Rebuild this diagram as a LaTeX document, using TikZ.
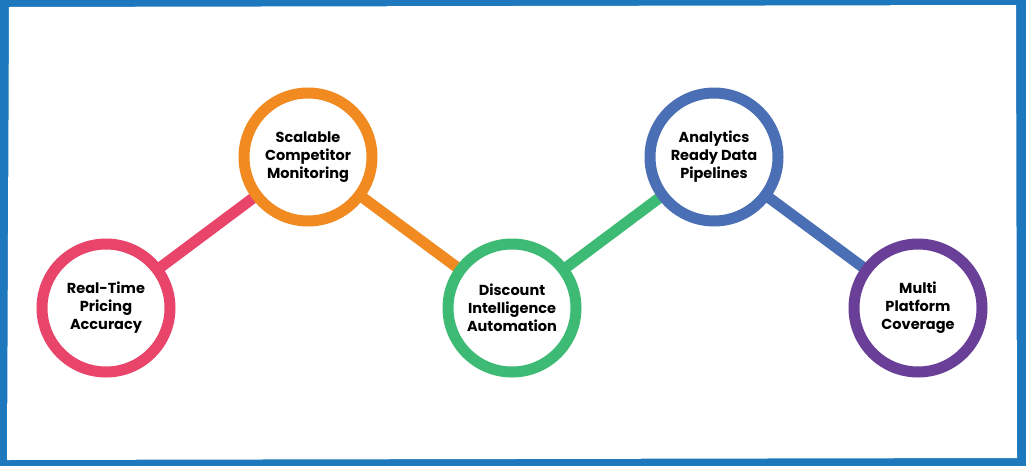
\documentclass[tikz,border=0pt]{standalone}
\usepackage{fontspec}
\setmainfont{Poppins}
\definecolor{cpink}{HTML}{E9446A}
\definecolor{corange}{HTML}{F28A22}
\definecolor{cgreen}{HTML}{3DBB74}
\definecolor{cblue}{HTML}{4A6FB5}
\definecolor{cpurple}{HTML}{6A3F98}
\definecolor{frame}{HTML}{1E78BE}
\begin{document}
\begin{tikzpicture}[x=1pt,y=-1pt,
  ring/.style={circle,draw=#1,line width=11pt,fill=white,minimum size=128pt,inner sep=0pt,align=center,font=\bfseries\fontsize{14.5}{18}\selectfont},
  link/.style={line width=11pt,draw=#1}]
\useasboundingbox (0,0) rectangle (1026,466);
\fill[frame] (0,0) rectangle (1026,466);
\fill[white] (9,7) -- (1016,5) -- (1017,458) -- (7,460) -- cycle;
\coordinate (p1) at (106,308);
\coordinate (p2) at (308,157);
\coordinate (p3) at (512,308);
\coordinate (p4) at (714,157);
\coordinate (p5) at (918,308);
\draw[link=cpink] (p1) -- (p2);
\draw[link=corange] (p2) -- (p3);
\draw[link=cgreen] (p3) -- (p4);
\draw[link=cblue] (p4) -- (p5);
\node[ring=cpink] (a) at (p1) {Real-Time\\Pricing\\Accuracy};
\node[ring=corange] (b) at (p2) {Scalable\\Competitor\\Monitoring};
\node[ring=cgreen] (c) at (p3) {Discount\\Intelligence\\Automation};
\node[ring=cblue] (d) at (p4) {Analytics\\Ready Data\\Pipelines};
\node[ring=cpurple] (e) at (p5) {Multi\\Platform\\Coverage};
\end{tikzpicture}
\end{document}
